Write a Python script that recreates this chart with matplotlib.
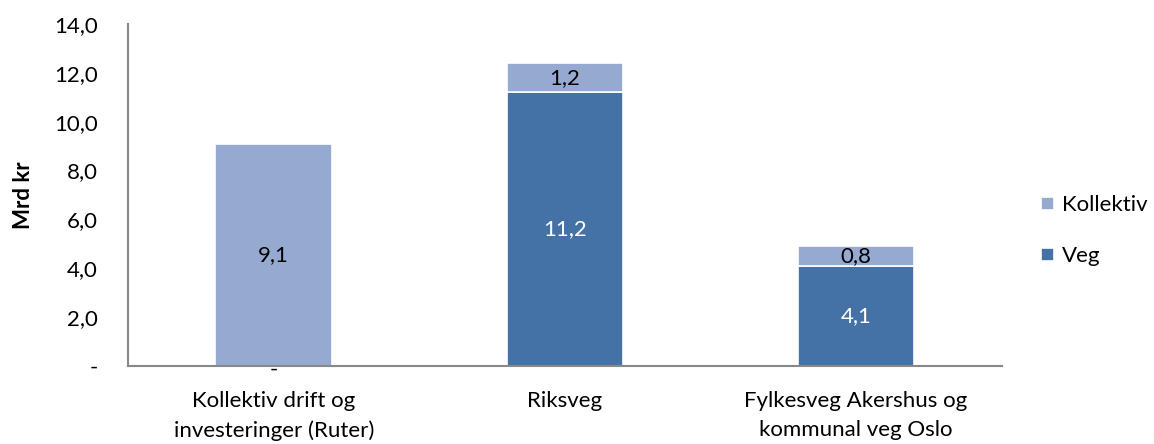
import matplotlib
matplotlib.use("Agg")
from matplotlib import pyplot as plt
import numpy as np

categories = ["Kollektiv drift og\ninvesteringer (Ruter)", "Riksveg", "Fylkesveg Akershus og\nkommunal veg Oslo"]
veg = [0.0, 11.2, 4.1]
kollektiv = [9.1, 1.2, 0.8]
yticks = [0, 2, 4, 6, 8, 10, 12, 14]

plt.rcParams["font.family"] = ["Lato", "DejaVu Sans"]

VEG_COLOR = "#4472a6"
KOLL_COLOR = "#95a9d1"
FS = 16


def fmt(v):
    if v == 0:
        return "-"
    return f"{v:.1f}".replace(".", ",")


fig = plt.figure(figsize=(11.54, 4.44), dpi=100)
ax = fig.add_axes((0.111, 0.176, 0.757, 0.770))

x = np.arange(len(categories))
width = 0.4
b_veg = ax.bar(x, veg, width, color=VEG_COLOR, edgecolor="white", linewidth=1.2, label="Veg", zorder=2)
b_koll = ax.bar(x, kollektiv, width, bottom=veg, color=KOLL_COLOR, edgecolor="white", linewidth=1.2,
                label="Kollektiv", zorder=2)

for xi, v in zip(x, veg):
    if v == 0:
        ax.text(xi, -0.15, fmt(v), ha="center", va="center", fontsize=FS, color="black")
    else:
        ax.text(xi, v / 2, fmt(v), ha="center", va="center", fontsize=FS, color="white")
for xi, v, b in zip(x, kollektiv, veg):
    ax.text(xi, b + v / 2, fmt(v), ha="center", va="center", fontsize=FS, color="black")

ax.set_xlim(-0.5, len(categories) - 0.5)
ax.set_ylim(0, 14)
ax.set_yticks(yticks)
ax.set_yticklabels([fmt(float(t)) for t in yticks], fontsize=FS)
ax.set_xticks(x)
ax.set_xticklabels(categories, fontsize=FS, linespacing=1.6)
ax.tick_params(axis="both", length=0)
ax.tick_params(axis="y", pad=22)
ax.tick_params(axis="x", pad=18)
ax.set_ylabel("Mrd kr", fontsize=FS, fontweight="bold", labelpad=14)

for side in ["top", "right"]:
    ax.spines[side].set_visible(False)
for side in ["left", "bottom"]:
    ax.spines[side].set_color("#888888")
    ax.spines[side].set_linewidth(1.5)

handles = [b_koll, b_veg]
fig.legend(handles, ["Kollektiv", "Veg"], loc="center left", bbox_to_anchor=(0.885, 0.48),
           frameon=False, fontsize=FS, handlelength=0.55, handleheight=0.55, handletextpad=0.4,
           labelspacing=1.4)

fig.savefig("out.png", dpi=100)
